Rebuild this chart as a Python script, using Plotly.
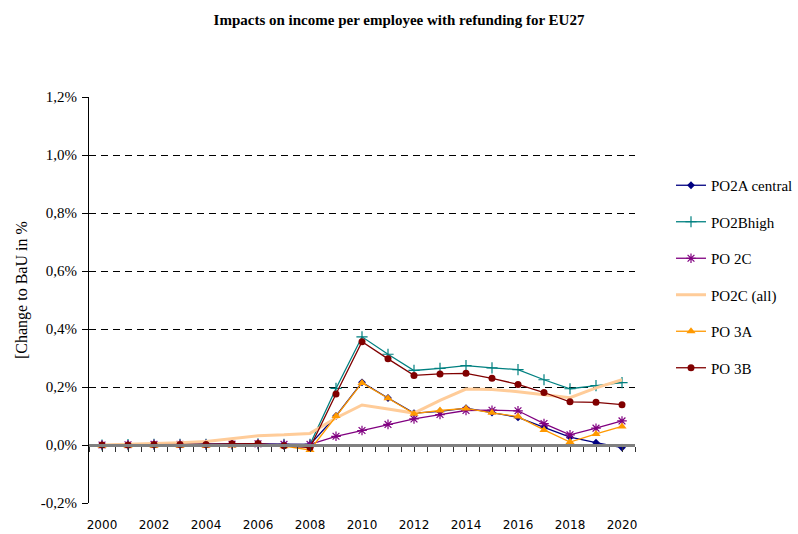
import plotly.graph_objects as go

years = list(range(2000, 2021))

po2a_central = [0.000, 0.001, 0.002, 0.002, 0.002, 0.003, 0.004, 0.002, 0.001, 0.100,
                0.216, 0.162, 0.110, 0.116, 0.127, 0.112, 0.095, 0.061, 0.027, 0.008, -0.009]
po2b_high = [0.000, 0.001, 0.002, 0.002, 0.002, 0.003, 0.004, 0.002, 0.002, 0.195,
             0.373, 0.313, 0.257, 0.264, 0.274, 0.266, 0.260, 0.225, 0.194, 0.205, 0.215]
po_2c = [0.000, 0.001, 0.002, 0.002, 0.002, 0.003, 0.004, 0.002, 0.002, 0.030,
         0.050, 0.071, 0.090, 0.105, 0.119, 0.120, 0.118, 0.074, 0.035, 0.058, 0.083]
po2c_all = [0.000, 0.002, 0.005, 0.008, 0.012, 0.023, 0.032, 0.035, 0.040, 0.093,
            0.138, 0.124, 0.110, 0.154, 0.193, 0.191, 0.184, 0.173, 0.163, 0.197, 0.225]
po_3a = [-0.003, -0.003, -0.003, -0.003, -0.003, -0.002, 0.000, -0.004, -0.017, 0.100,
         0.214, 0.161, 0.108, 0.119, 0.126, 0.111, 0.098, 0.052, 0.010, 0.038, 0.064]
po_3b = [0.000, 0.000, 0.002, 0.002, 0.002, 0.004, 0.005, -0.003, -0.009, 0.176,
         0.356, 0.297, 0.240, 0.245, 0.247, 0.230, 0.209, 0.181, 0.149, 0.147, 0.139]

y_ticks = [-0.2, 0.0, 0.2, 0.4, 0.6, 0.8, 1.0, 1.2]
y_labels = ["-0,2%", "0,0%", "0,2%", "0,4%", "0,6%", "0,8%", "1,0%", "1,2%"]
x_ticks = list(range(2000, 2021, 2))

SERIF = "Liberation Serif"
SANS = "DejaVu Sans"

series = [
    ("PO2A central", po2a_central, "#000080", dict(symbol="diamond", size=6)),
    ("PO2Bhigh", po2b_high, "#008080", dict(symbol="cross-thin", size=8, line=dict(width=1.2, color="#008080"))),
    ("PO 2C", po_2c, "#800080", dict(symbol="asterisk", size=8, line=dict(width=1.2, color="#800080"))),
    ("PO2C (all)", po2c_all, "#FFCC99", None),
    ("PO 3A", po_3a, "#FF9900", dict(symbol="triangle-up", size=8)),
    ("PO 3B", po_3b, "#800000", dict(symbol="circle", size=7)),
]

fig = go.Figure()
for i, (name, vals, color, marker) in enumerate(series):
    if marker is None:
        fig.add_trace(go.Scatter(x=years, y=vals, name=name, mode="lines",
                                 line=dict(color=color, width=3), legendgroup=str(i)))
    else:
        marker = dict(marker, color=color)
        fig.add_trace(go.Scatter(x=years, y=vals, name=name, mode="lines+markers",
                                 line=dict(color=color, width=1.3), marker=marker,
                                 legendgroup=str(i)))

# zero line with half-year tick marks, drawn by a secondary x axis
fig.add_trace(go.Scatter(x=[2000], y=[0], xaxis="x2", mode="markers",
                         marker=dict(opacity=0), showlegend=False, hoverinfo="skip"))

fig.update_layout(
    width=798, height=534,
    margin=dict(l=89, r=163, t=97, b=31, autoexpand=False),
    paper_bgcolor="white", plot_bgcolor="white",
    font=dict(family=SERIF, size=15, color="black"),
    title=dict(text="<b>Impacts on income per employee with refunding for EU27</b>",
               x=0.5, xref="container", y=1 - 20 / 534, yanchor="middle",
               font=dict(family=SERIF, size=15)),
    showlegend=True,
    legend=dict(x=(671 - 89) / 546, xanchor="left", y=(503 - 169) / 406, yanchor="top",
                tracegroupgap=14, font=dict(family=SERIF, size=15),
                bgcolor="rgba(0,0,0,0)"),
    xaxis=dict(range=[1999.5, 2020.5], tickvals=x_ticks, ticks="", showline=False,
               showgrid=False, zeroline=False, ticklabelstandoff=13,
               tickfont=dict(family=SANS, size=12)),
    xaxis2=dict(range=[1999.5, 2020.5], overlaying="x", anchor="free", position=1 / 7,
                side="bottom", showline=True, linecolor="#808080", linewidth=2.5,
                ticks="outside", tickcolor="#303030", ticklen=5, tickwidth=1,
                tick0=2000, dtick=0.5, showticklabels=False, showgrid=False, zeroline=False),
    yaxis=dict(range=[-0.2, 1.2], tickvals=y_ticks, ticktext=y_labels,
               showline=True, linecolor="black", linewidth=1,
               ticks="outside", ticklen=6, tickcolor="black", ticklabelstandoff=2,
               showgrid=True, gridcolor="black", griddash="7px,5px", gridwidth=1,
               zeroline=False, tickfont=dict(family=SERIF, size=15)),
    annotations=[dict(text="[Change to BaU in %", x=(22 - 89) / 546, y=(503 - 290) / 406,
                      xref="paper", yref="paper", xanchor="center", yanchor="middle",
                      showarrow=False, textangle=-90,
                      font=dict(family=SERIF, size=16))],
)

fig.write_html("out.html", config={"displayModeBar": False},
               post_script="document.body.style.margin='0';")
